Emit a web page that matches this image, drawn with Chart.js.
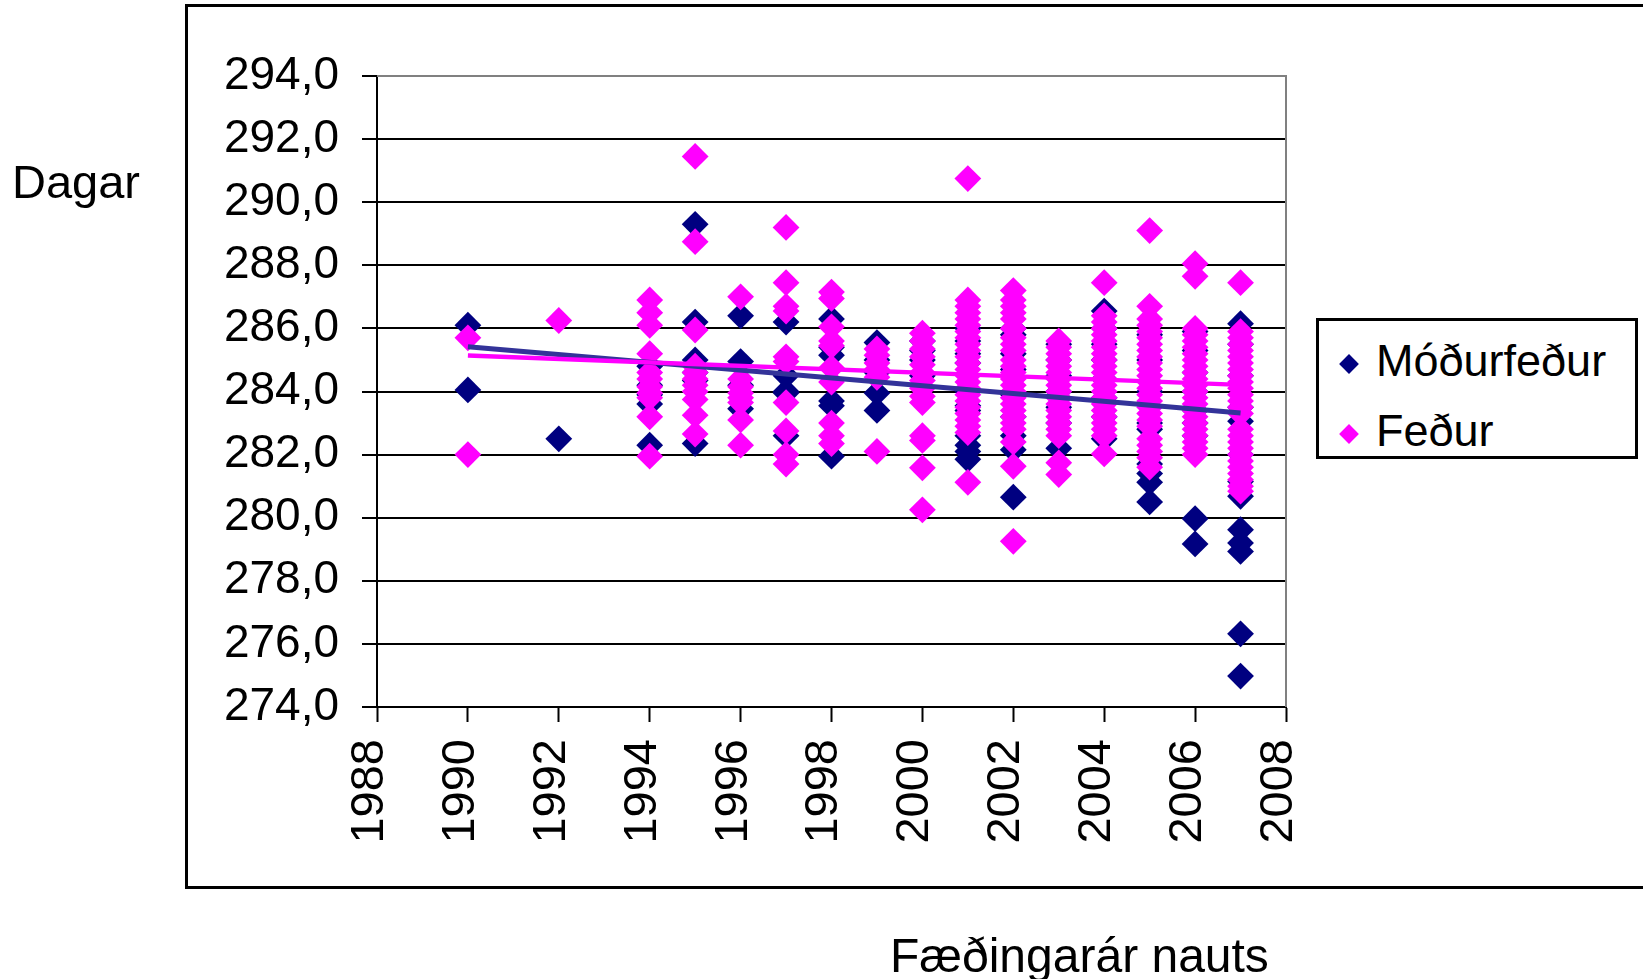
<!DOCTYPE html>
<html>
<head>
<meta charset="utf-8">
<script src="https://cdn.jsdelivr.net/npm/chart.js@4.4.1/dist/chart.umd.min.js"></script>
<style>
  html, body { margin: 0; padding: 0; background: #fff; }
  #wrap { position: relative; width: 1643px; height: 979px; overflow: hidden; background: #fff;
          font-family: "Liberation Sans", Arial, sans-serif; color: #000; }
  #frame { position: absolute; left: 185px; top: 4px; width: 1500px; height: 885px;
           box-sizing: border-box; border: 3px solid #000; border-right: none; }
  #c { position: absolute; left: 0; top: 0; }
  .txt { position: absolute; white-space: nowrap; line-height: 47px; font-size: 47px; }
  #ytitle { left: 12px; top: 158px; }
  #xtitle { left: 890px; top: 932px; font-size: 48px; line-height: 48px; }
  #legend { position: absolute; left: 1316px; top: 318px; width: 322px; height: 141px;
            box-sizing: border-box; border: 3px solid #000; background: #fff; }
  .lmark { position: absolute; width: 14px; height: 14px; transform: rotate(45deg); }
  .ltext { position: absolute; font-size: 45px; line-height: 45px; white-space: nowrap; }
</style>
</head>
<body>
<div id="wrap">
  <div id="frame"></div>
  <canvas id="c" width="1643" height="979"></canvas>
  <div id="ytitle" class="txt">Dagar</div>
  <div id="xtitle" class="txt">Fæðingarár nauts</div>
  <div id="legend"></div>
</div>
<script>
// ---- Data ----
const years = [1990, 1992, 1994, 1995, 1996, 1997, 1998, 1999, 2000, 2001, 2002, 2003, 2004, 2005, 2006, 2007];

const modurfedurValues = [
  [286.1, 284.05],
  [282.5],
  [284.8, 284.2, 283.9, 283.6, 282.3],
  [289.3, 286.2, 285.0, 284.6, 284.35, 282.35],
  [286.4, 284.95, 284.2, 283.45],
  [286.2, 284.5, 284.0, 283.95, 282.6],
  [286.3, 285.4, 285.15, 283.7, 283.55, 281.95],
  [285.55, 285.0, 284.6, 283.95, 283.4],
  [285.6, 285.3, 285.0, 284.5],
  [286.0, 285.6, 285.2, 284.9, 284.0, 283.55, 283.4, 282.6, 282.3, 282.1, 281.85],
  [286.0, 285.8, 285.2, 284.7, 283.9, 283.2, 282.6, 282.15, 280.65],
  [285.5, 285.0, 284.5, 284.0, 283.5, 283.0, 282.2],
  [286.55, 286.0, 285.5, 285.0, 284.4, 283.8, 283.2, 282.5],
  [285.8, 285.0, 284.0, 283.0, 282.8, 281.7, 281.4, 281.12, 280.5],
  [285.9, 285.3, 284.6, 284.0, 283.4, 283.0, 282.6, 279.97, 279.17],
  [286.15, 285.5, 284.5, 283.5, 283.06, 282.0, 281.15, 280.68, 279.62, 279.2, 278.93, 276.32, 274.98]
];

const fedurValues = [
  [285.7, 282.0],
  [286.25],
  [286.9, 286.5, 286.1, 285.2, 284.6, 284.4, 284.15, 283.95, 283.8, 283.2, 281.95],
  [291.45, 288.75, 285.95, 284.8, 284.6, 284.4, 284.2, 284.0, 283.75, 283.25, 282.65],
  [287.0, 284.4, 284.15, 283.95, 283.8, 283.65, 283.1, 282.3],
  [289.2, 287.45, 286.7, 286.55, 285.1, 284.95, 283.65, 282.75, 282.0, 281.7],
  [287.15, 286.95, 286.05, 285.6, 285.45, 284.75, 284.3, 283.0, 282.6, 282.35],
  [285.35, 285.15, 284.9, 284.7, 284.45, 282.1],
  [285.85, 285.6, 285.35, 285.1, 284.85, 284.6, 284.35, 284.1, 283.85, 283.65, 282.6, 282.45, 281.58, 280.25],
  [290.75, 286.9, 286.7, 286.5, 286.3, 286.1, 285.9, 285.7, 285.5, 285.3, 285.1, 284.9, 284.7, 284.5, 284.3, 284.1, 283.9, 283.7, 283.5, 283.3, 283.1, 282.9, 282.7, 281.12],
  [287.2, 286.9, 286.7, 286.5, 286.3, 286.0, 285.7, 285.5, 285.3, 285.0, 284.8, 284.6, 284.4, 284.2, 284.0, 283.8, 283.6, 283.4, 283.2, 283.0, 282.8, 282.4, 281.63, 279.25],
  [285.6, 285.4, 285.2, 285.0, 284.8, 284.6, 284.4, 284.2, 284.0, 283.8, 283.6, 283.4, 283.2, 283.0, 282.8, 282.6, 281.74, 281.37],
  [287.45, 286.4, 286.2, 286.0, 285.8, 285.6, 285.4, 285.2, 285.0, 284.8, 284.6, 284.4, 284.2, 284.0, 283.8, 283.6, 283.4, 283.2, 283.0, 282.8, 282.6, 282.02],
  [289.1, 286.7, 286.3, 286.1, 285.9, 285.7, 285.5, 285.3, 285.1, 284.9, 284.7, 284.5, 284.3, 284.1, 283.9, 283.7, 283.5, 283.3, 283.1, 282.9, 282.5, 282.3, 282.1, 281.9, 281.6],
  [288.05, 287.65, 286.0, 285.8, 285.6, 285.4, 285.2, 285.0, 284.8, 284.6, 284.4, 284.2, 284.0, 283.8, 283.6, 283.4, 283.2, 283.0, 282.8, 282.6, 282.4, 282.2, 282.0],
  [287.45, 285.9, 285.7, 285.5, 285.3, 285.1, 284.9, 284.7, 284.5, 284.3, 284.1, 283.9, 283.7, 283.5, 283.3, 282.8, 282.6, 282.4, 282.2, 282.0, 281.8, 281.6, 281.4, 281.2, 281.0, 280.84]
];

// Linear trend lines (end points)
const trendYears = [1990, 2007];
const modurfedurTrend = [285.42, 283.32];
const fedurTrend = [285.14, 284.21];

const seriesNames = ['Móðurfeður', 'Feður'];
const seriesColors = ['#000080', '#FF00FF'];
const trendColors = ['#333399', '#FF00FF'];

const xTicks = [1988, 1990, 1992, 1994, 1996, 1998, 2000, 2002, 2004, 2006, 2008];
const yTicks = [274, 276, 278, 280, 282, 284, 286, 288, 290, 292, 294];

// ---- Build points ----
function toPoints(vals) {
  const pts = [];
  years.forEach((yr, i) => vals[i].forEach(v => pts.push({ x: yr, y: v })));
  return pts;
}
function trendPoints(vals) {
  return trendYears.map((yr, i) => ({ x: yr, y: vals[i] }));
}

Chart.defaults.font.family = '"Liberation Sans", Arial, sans-serif';
Chart.defaults.color = '#000';

const plotBorder = {
  id: 'plotBorder',
  beforeDatasetsDraw(chart) {
    const { ctx, chartArea: a } = chart;
    ctx.save();
    ctx.strokeStyle = '#808080';
    ctx.lineWidth = 2;
    ctx.beginPath();
    ctx.moveTo(a.left, a.top);
    ctx.lineTo(a.right, a.top);
    ctx.lineTo(a.right, a.bottom);
    ctx.stroke();
    ctx.restore();
  }
};

const pointOpts = (color) => ({
  backgroundColor: color, borderColor: color,
  pointStyle: 'rectRot', pointRadius: 13.4, pointBorderWidth: 0,
  pointHoverRadius: 13.4, showLine: false
});

new Chart(document.getElementById('c'), {
  type: 'scatter',
  data: {
    datasets: [
      { type: 'line', label: 'trend2', data: trendPoints(fedurTrend), borderColor: trendColors[1],
        borderWidth: 4.5, pointRadius: 0, fill: false, order: 0 },
      { type: 'line', label: 'trend1', data: trendPoints(modurfedurTrend), borderColor: trendColors[0],
        borderWidth: 5, pointRadius: 0, fill: false, order: 1 },
      Object.assign({ label: seriesNames[1], data: toPoints(fedurValues), order: 2 }, pointOpts(seriesColors[1])),
      Object.assign({ label: seriesNames[0], data: toPoints(modurfedurValues), order: 3 }, pointOpts(seriesColors[0]))
    ]
  },
  options: {
    responsive: false,
    animation: false,
    devicePixelRatio: 1,
    events: [],
    layout: { padding: { top: 76, right: 357, left: 0, bottom: 0 } },
    plugins: { legend: { display: false }, tooltip: { enabled: false } },
    scales: {
      x: {
        type: 'linear', min: 1988, max: 2008,
        afterBuildTicks: (s) => { s.ticks = xTicks.map(v => ({ value: v })); },
        afterFit: (s) => { s.height = 272; },
        ticks: {
          autoSkip: false, minRotation: 90, maxRotation: 90, padding: 17, labelOffset: -7,
          font: { size: 47 }, color: '#000',
          callback: (v) => String(v)
        },
        grid: { drawOnChartArea: false, drawTicks: true, tickLength: 15, tickColor: '#000', tickWidth: 2, color: '#000' },
        border: { display: true, color: '#000', width: 2 }
      },
      y: {
        type: 'linear', min: 274, max: 294,
        afterBuildTicks: (s) => { s.ticks = yTicks.map(v => ({ value: v })); },
        afterFit: (s) => { s.width = 377; },
        ticks: {
          padding: 23, font: { size: 46 }, color: '#000',
          callback: (v) => v.toFixed(1).replace('.', ',')
        },
        grid: {
          drawOnChartArea: true, drawTicks: true, tickLength: 15, lineWidth: 2, tickWidth: 2,
          tickColor: '#000',
          color: (c) => (c.tick && c.tick.value === 294) ? 'rgba(0,0,0,0)' : '#000'
        },
        border: { display: true, color: '#000', width: 2 }
      }
    }
  },
  plugins: [plotBorder]
});

// ---- Legend (HTML, built from series arrays) ----
const legend = document.getElementById('legend');
const rowTops = [16, 86];
seriesNames.forEach((name, i) => {
  const mark = document.createElement('div');
  mark.className = 'lmark';
  mark.style.background = seriesColors[i];
  mark.style.left = (1349 - 1316 - 3 - 7) + 'px';
  mark.style.top = (rowTops[i] + 20) + 'px';
  legend.appendChild(mark);
  const t = document.createElement('div');
  t.className = 'ltext';
  t.textContent = name;
  t.style.left = (1376 - 1316 - 3) + 'px';
  t.style.top = (rowTops[i] + 1) + 'px';
  legend.appendChild(t);
});
</script>
</body>
</html>
